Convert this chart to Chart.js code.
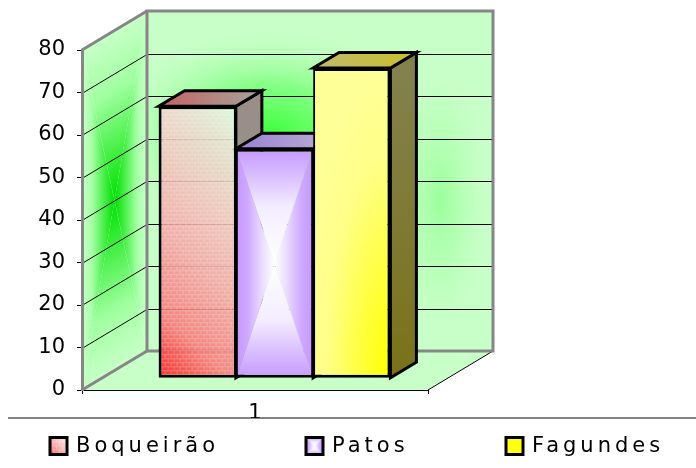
<!DOCTYPE html>
<html>
<head>
<meta charset="utf-8">
<script src="https://cdn.jsdelivr.net/npm/chart.js@4.4.1/dist/chart.umd.min.js"></script>
<style>
  html, body { margin: 0; padding: 0; background: #fff; }
</style>
</head>
<body>
<canvas id="chart" width="696" height="468"></canvas>
<script>
const categories = ['1'];
const seriesLabels = ['Boqueirão', 'Patos', 'Fagundes'];
const boqueiraoValues = [64];
const patosValues = [54];
const fagundesValues = [73];
const yTickValues = [0, 10, 20, 30, 40, 50, 60, 70, 80];

const seriesValues = [boqueiraoValues, patosValues, fagundesValues];

const FONT = '"DejaVu Sans", "Liberation Sans", sans-serif';
const DEPTH_X = 65, DEPTH_Y = -39;      // how far the back wall sits behind the axis
const BAR_FRONT = 0.3, BAR_DEEP = 0.4;  // bar front plane / bar thickness, as part of the depth
const GROUP_PCT = 0.67;
const WALL_GREEN = '#c8ffc8';
const WALL_EDGE = '#868686';
const LEGEND_BOX_X = [50, 306, 506];
const LEGEND_Y = 446;

const barBorders = [
  { top: 3, bottom: 3, left: 3, right: 2 },
  { top: 3, bottom: 3, left: 2, right: 2 },
  { top: 3, bottom: 3, left: 2, right: 3 }
];
const topColors = [['#c66262', '#a4a69c'], ['#9a82d6', '#bcb0d0'], ['#c0ba6e', '#cbbf2c']];
const sideColors = [['#9a8f88', '#87908a'], ['#8c74c4', '#7a62b0'], ['#83814e', '#7a7218']];

function makeCanvas(w, h) {
  const c = document.createElement('canvas');
  c.width = Math.max(1, Math.round(w));
  c.height = Math.max(1, Math.round(h));
  return c;
}

// excel style "from center" fill: four triangles fading to the middle
function fromCenter(g, w, h, vStops, hStops) {
  const cx = w / 2, cy = h / 2;
  const tri = (pts, x0, y0, x1, y1, stops) => {
    const lg = g.createLinearGradient(x0, y0, x1, y1);
    stops.forEach(([t, col]) => lg.addColorStop(t, col));
    g.fillStyle = lg;
    g.beginPath();
    g.moveTo(pts[0][0], pts[0][1]);
    g.lineTo(pts[1][0], pts[1][1]);
    g.lineTo(cx, cy);
    g.closePath();
    g.fill();
  };
  hStops = hStops || vStops;
  tri([[0, 0], [w, 0]], 0, 0, 0, cy, vStops);
  tri([[0, h], [w, h]], 0, h, 0, cy, vStops);
  tri([[0, 0], [0, h]], 0, 0, cx, 0, hStops);
  tri([[w, 0], [w, h]], w, 0, cx, 0, hStops);
}

function glow(g, cx, cy, r, sy, stops) {
  g.save();
  g.translate(cx, cy);
  g.scale(1, sy);
  const rg = g.createRadialGradient(0, 0, 0, 0, 0, r);
  stops.forEach(([t, col]) => rg.addColorStop(t, col));
  g.fillStyle = rg;
  g.fillRect(-r, -r, 2 * r, 2 * r);
  g.restore();
}

const facePainters = [
  (g, w, h) => {
    // red corner bottom left, washed out top right, a bit see-through
    g.globalAlpha = 0.88;
    const d = (w + h) / 2;
    const lg = g.createLinearGradient(0, h, d, h - d);
    lg.addColorStop(0, '#ff1010');
    lg.addColorStop(0.2, '#f87676');
    lg.addColorStop(0.45, '#f5a4a4');
    lg.addColorStop(0.65, '#f4c0bc');
    lg.addColorStop(0.85, '#f2dcd8');
    lg.addColorStop(1, '#eef8ee');
    g.fillStyle = lg;
    g.fillRect(0, 0, w, h);
    // brick texture
    g.globalAlpha = 0.22;
    g.strokeStyle = '#fff';
    g.lineWidth = 1;
    g.beginPath();
    for (let yy = 0, row = 0; yy < h; yy += 4, row++) {
      g.moveTo(0, yy + 0.5); g.lineTo(w, yy + 0.5);
      for (let xx = (row % 2) * 3; xx < w; xx += 6) {
        g.moveTo(xx + 0.5, yy); g.lineTo(xx + 0.5, yy + 4);
      }
    }
    g.stroke();
  },
  (g, w, h) => {
    fromCenter(g, w, h,
      [[0, '#c598ff'], [0.2, '#d6b8ff'], [0.5, '#f3ecff'], [1, '#ffffff']],
      [[0, '#c598ff'], [0.3, '#cfa8ff'], [0.65, '#e8d8ff'], [1, '#ffffff']]);
  },
  (g, w, h) => {
    g.fillStyle = '#ffff98';
    g.fillRect(0, 0, w, h);
    glow(g, w, h, 90, 3.5, [[0, '#ffff00'], [0.35, '#ffff40'], [0.7, '#ffff88'], [1, '#ffff98']]);
  }
];

function paintPattern(ctx, r, paint) {
  const c = makeCanvas(r.right - r.left, r.bottom - r.top);
  paint(c.getContext('2d'), c.width, c.height);
  const p = ctx.createPattern(c, 'no-repeat');
  p.setTransform(new DOMMatrix([1, 0, 0, 1, r.left, r.top]));
  return p;
}

function barFill(context, i) {
  const chart = context.chart;
  if (!chart.chartArea) return '#ccc';
  const { x, y } = chart.scales;
  const group = x.width * GROUP_PCT;
  const w = group / seriesValues.length;
  const left = x.getPixelForValue(0) - group / 2 + i * w;
  const r = {
    left, right: left + w,
    top: y.getPixelForValue(seriesValues[i][0]),
    bottom: y.getPixelForValue(0)
  };
  return paintPattern(chart.ctx, r, facePainters[i]);
}

function poly(ctx, pts) {
  ctx.beginPath();
  pts.forEach(([px, py], k) => (k ? ctx.lineTo(px, py) : ctx.moveTo(px, py)));
  ctx.closePath();
}

function seg(ctx, x1, y1, x2, y2) {
  ctx.beginPath();
  ctx.moveTo(x1, y1);
  ctx.lineTo(x2, y2);
  ctx.stroke();
}

function drawWalls(chart) {
  const { ctx, chartArea: a, scales: { x, y } } = chart;
  const L = a.left, R = a.right;
  const T = y.getPixelForValue(yTickValues[yTickValues.length - 1]);
  const B = y.getPixelForValue(yTickValues[0]);
  const dx = DEPTH_X, dy = DEPTH_Y;
  const bw = R - L, bh = B - T;

  ctx.save();
  poly(ctx, [[L, B], [L + dx, B + dy], [R + dx, B + dy], [R, B]]);
  ctx.fillStyle = WALL_GREEN;
  ctx.fill();

  const back = makeCanvas(bw, bh);
  const bg = back.getContext('2d');
  bg.fillStyle = WALL_GREEN;
  bg.fillRect(0, 0, bw, bh);
  glow(bg, 123, 124, 170, 0.65, [[0, 'rgba(60,255,60,1)'], [0.45, 'rgba(120,255,120,0.85)'], [1, 'rgba(200,255,200,0)']]);
  glow(bg, 293, 190, 45, 2.8, [[0, 'rgba(150,255,150,0.9)'], [1, 'rgba(170,255,170,0)']]);
  ctx.drawImage(back, L + dx, T + dy);

  const side = makeCanvas(dx, bh);
  fromCenter(side.getContext('2d'), side.width, side.height,
    [[0, '#c8ffc8'], [0.35, '#a0ffa0'], [0.7, '#48f048'], [1, '#00e000']],
    [[0, '#c8ffc8'], [0.3, '#a8ffa8'], [0.65, '#50f050'], [1, '#00e000']]);
  ctx.save();
  ctx.transform(1, dy / dx, 0, 1, L, T);
  ctx.drawImage(side, 0, 0);
  ctx.restore();

  ctx.strokeStyle = '#000';
  ctx.lineWidth = 1;
  yTickValues.slice(1, -1).forEach(v => {
    const py = Math.round(y.getPixelForValue(v)) + 0.5;
    seg(ctx, L + dx, py + dy, R + dx, py + dy);
    seg(ctx, L, py, L + dx, py + dy);
  });
  seg(ctx, R, B, R + dx, B + dy);

  ctx.strokeStyle = WALL_EDGE;
  ctx.lineWidth = 3;
  ctx.strokeRect(L + dx, T + dy, bw, bh);
  seg(ctx, L, T, L + dx, T + dy);
  seg(ctx, L, B, L + dx, B + dy);

  ctx.strokeStyle = '#5a5a5a';
  ctx.lineWidth = 1.5;
  seg(ctx, 8, x.bottom, chart.width, x.bottom);
  ctx.restore();
}

function drawBlocks(chart) {
  const ctx = chart.ctx;
  const dx = DEPTH_X * BAR_DEEP, dy = DEPTH_Y * BAR_DEEP;
  chart.data.datasets.forEach((ds, i) => {
    const el = chart.getDatasetMeta(i).data[0];
    if (!el) return;
    const p = el.getProps(['x', 'y', 'base', 'width'], true);
    const l = p.x - p.width / 2, r = p.x + p.width / 2;
    const t = Math.min(p.y, p.base), b = Math.max(p.y, p.base);

    const tg = ctx.createLinearGradient(l, t, r + dx, t);
    tg.addColorStop(0, topColors[i][0]);
    tg.addColorStop(1, topColors[i][1]);
    const sg = ctx.createLinearGradient(r, t, r, b);
    sg.addColorStop(0, sideColors[i][0]);
    sg.addColorStop(1, sideColors[i][1]);

    ctx.lineWidth = 3;
    ctx.strokeStyle = '#000';
    poly(ctx, [[r, t], [r + dx, t + dy], [r + dx, b + dy], [r, b]]);
    ctx.fillStyle = sg;
    ctx.fill();
    ctx.stroke();
    poly(ctx, [[l, t], [r, t], [r + dx, t + dy], [l + dx, t + dy]]);
    ctx.fillStyle = tg;
    ctx.fill();
    ctx.stroke();
  });
}

function drawLegend(chart) {
  const ctx = chart.ctx;
  const size = 17;
  ctx.save();
  ctx.font = '21px ' + FONT;
  ctx.letterSpacing = '4px';
  ctx.textBaseline = 'middle';
  chart.data.datasets.forEach((ds, i) => {
    const bx = LEGEND_BOX_X[i];
    const box = { left: bx, top: LEGEND_Y - size / 2, right: bx + size, bottom: LEGEND_Y + size / 2 };
    ctx.fillStyle = paintPattern(ctx, box, facePainters[i]);
    ctx.fillRect(box.left, box.top, size, size);
    ctx.lineWidth = 3;
    ctx.strokeStyle = '#000';
    ctx.strokeRect(box.left, box.top, size, size);
    ctx.fillStyle = '#000';
    ctx.fillText(ds.label, bx + size + 9, LEGEND_Y + 1);
  });
  ctx.restore();
}

const excel3d = {
  id: 'excel3d',
  beforeDraw(chart) {
    drawWalls(chart);
  },
  beforeDatasetsDraw(chart) {
    chart.ctx.save();
    chart.ctx.translate(DEPTH_X * BAR_FRONT, DEPTH_Y * BAR_FRONT);
    drawBlocks(chart);
  },
  afterDatasetsDraw(chart) {
    chart.ctx.restore();
  },
  afterDraw(chart) {
    drawLegend(chart);
  }
};

new Chart(document.getElementById('chart'), {
  type: 'bar',
  data: {
    labels: categories,
    datasets: seriesLabels.map((label, i) => ({
      label,
      data: seriesValues[i],
      backgroundColor: c => barFill(c, i),
      borderColor: '#000',
      borderWidth: barBorders[i],
      borderSkipped: false,
      categoryPercentage: GROUP_PCT,
      barPercentage: 1,
      clip: false
    }))
  },
  options: {
    responsive: false,
    animation: false,
    events: [],
    devicePixelRatio: 1,
    layout: { padding: { top: 50, right: 268, bottom: 50, left: 0 } },
    plugins: {
      legend: { display: false },
      tooltip: { enabled: false }
    },
    scales: {
      x: {
        offset: true,
        grid: { offset: true, drawOnChartArea: false, tickLength: 4, color: '#000' },
        border: { color: '#000', width: 1 },
        ticks: { color: '#000', font: { family: FONT, size: 21 }, padding: 7 },
        afterFit: s => { s.height = 28; }
      },
      y: {
        min: yTickValues[0],
        max: yTickValues[yTickValues.length - 1],
        grid: { drawOnChartArea: false, tickLength: 5, color: '#000' },
        border: { color: WALL_EDGE, width: 3 },
        ticks: {
          stepSize: yTickValues[1] - yTickValues[0],
          color: '#000',
          font: { family: FONT, size: 21 },
          padding: 12
        },
        afterFit: s => { s.width = 82; }
      }
    }
  },
  plugins: [excel3d]
});
</script>
</body>
</html>
